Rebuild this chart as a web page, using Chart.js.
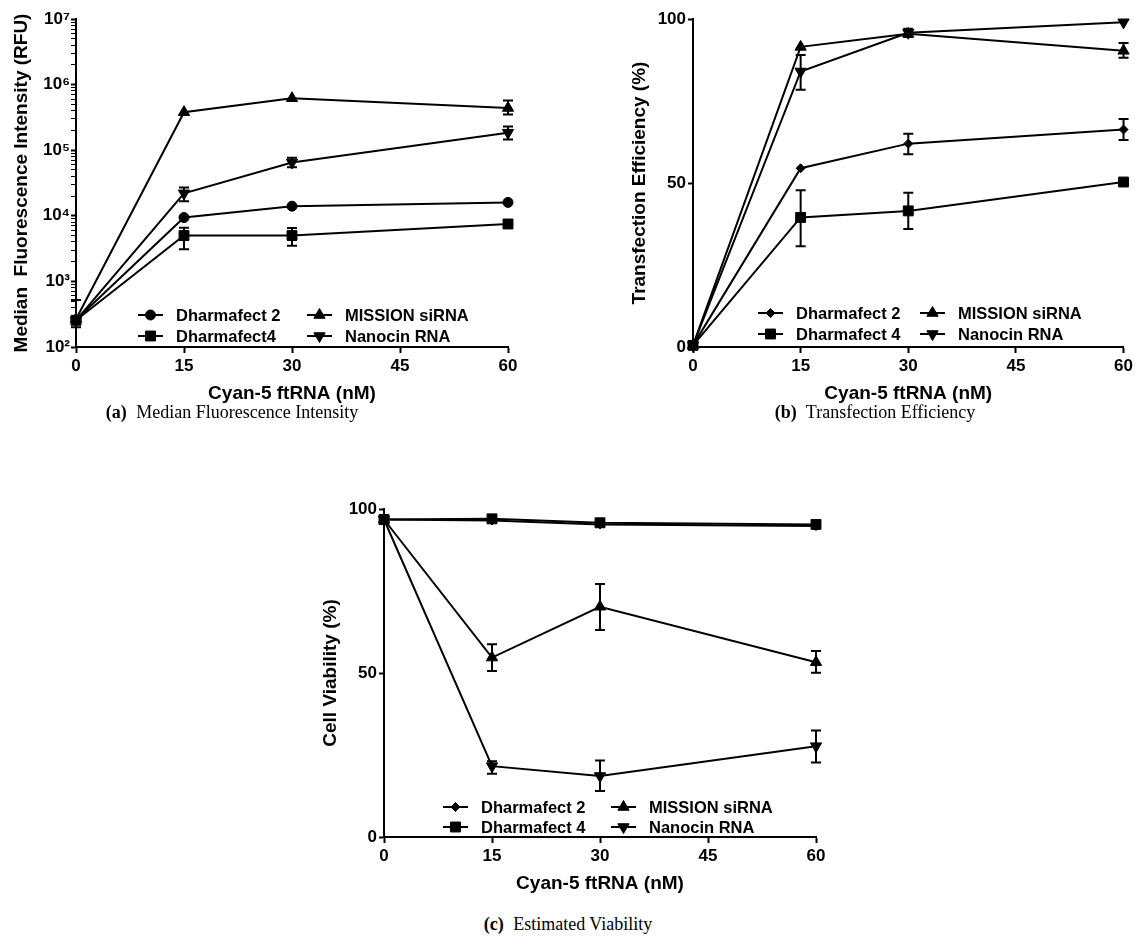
<!DOCTYPE html>
<html>
<head>
<meta charset="utf-8">
<script src="https://cdn.jsdelivr.net/npm/chart.js@4.4.1/dist/chart.umd.min.js"></script>
<style>
  body { margin: 0; background: #fff; width: 1136px; height: 943px; position: relative; overflow: hidden; }
  canvas { position: absolute; }
  .cap { position: absolute; font-family: 'Liberation Serif', 'DejaVu Serif', serif; font-size: 18px; color: #000; text-align: center; line-height: 22px; }
  .cap b { margin-right: 5px; }
</style>
</head>
<body>
<canvas id="chartA" width="530" height="407" style="left:0px;top:0px"></canvas>
<canvas id="chartB" width="536" height="407" style="left:600px;top:0px"></canvas>
<canvas id="chartC" width="560" height="407" style="left:290px;top:490px"></canvas>
<div class="cap" style="left:0px;width:464px;top:401px"><b>(a)</b> Median Fluorescence Intensity</div>
<div class="cap" style="left:675px;width:400px;top:401px"><b>(b)</b> Transfection Efficiency</div>
<div class="cap" style="left:368px;width:400px;top:913px"><b>(c)</b> Estimated Viability</div>
<script>
"use strict"

// x values (nM) and tick positions
const doses = [0, 15, 30, 60];
const xTicks = [0, 15, 30, 45, 60];
const pctTicks = [0, 50, 100];
const mfiDecades = [1e2, 1e3, 1e4, 1e5, 1e6, 1e7];
const mfiTickLabels = ['10²', '10³', '10⁴', '10⁵', '10⁶', '10⁷'];

// (a) median fluorescence intensity (RFU)
const mfiDharma2 = [260, 9400, 14000, 16000];
const mfiDharma4 = [255, 5000, 5000, 7500];
const mfiDharma4Lo = [200, 3100, 3500, null];
const mfiDharma4Hi = [520, 6600, 6500, null];
const mfiMission = [265, 380000, 620000, 440000];
const mfiMissionLo = [null, null, null, 350000];
const mfiMissionHi = [null, null, null, 570000];
const mfiNanocin = [255, 22000, 65000, 185000];
const mfiNanocinLo = [null, 16600, 55000, 145000];
const mfiNanocinHi = [null, 27000, 77000, 230000];

// (b) transfection efficiency (%)
const teDharma2 = [0.5, 54.5, 62, 66.3];
const teDharma2Lo = [null, null, 58.8, 63.1];
const teDharma2Hi = [null, null, 65, 69.5];
const teDharma4 = [0.5, 39.5, 41.5, 50.3];
const teDharma4Lo = [null, 30.7, 36, null];
const teDharma4Hi = [null, 47.8, 47, null];
const teMission = [0.5, 91.5, 95.5, 90.3];
const teMissionLo = [null, null, null, 88.2];
const teMissionHi = [null, null, null, 92.7];
const teNanocin = [0.5, 84, 95.8, 99];
const teNanocinLo = [null, 78.4, 94.5, null];
const teNanocinHi = [null, 89, 97, null];

// (c) cell viability (%)
const cvDharma2 = [96.8, 96.5, 95.3, 94.8];
const cvDharma4 = [96.8, 97.0, 95.8, 95.3];
const cvMission = [96.8, 54.7, 70.2, 53.3];
const cvMissionLo = [null, 50.6, 63.1, 50.1];
const cvMissionHi = [null, 58.8, 77.1, 56.7];
const cvNanocin = [96.8, 21.6, 18.6, 27.7];
const cvNanocinLo = [null, 19.3, 14.0, 22.7];
const cvNanocinHi = [null, 23.1, 23.3, 32.5];

const xTitle = 'Cyan-5 ftRNA (nM)';

Chart.defaults.font.family = "'Liberation Sans', Arial, sans-serif";
Chart.defaults.color = '#000';

// error bars drawn on top of the lines
const errorBars = {
    id: 'errorBars',
    afterDatasetsDraw(chart) {
        const ctx = chart.ctx, xs = chart.scales.x, ys = chart.scales.y;
        ctx.save();
        ctx.strokeStyle = '#000';
        ctx.lineWidth = 2;
        chart.data.datasets.forEach(ds => {
            if (!ds.errLo) return;
            ds.data.forEach((p, i) => {
                const lo = ds.errLo[i], hi = ds.errHi[i];
                if (lo == null || hi == null) return;
                const x = xs.getPixelForValue(p.x);
                const y1 = ys.getPixelForValue(lo), y2 = ys.getPixelForValue(hi);
                ctx.beginPath();
                ctx.moveTo(x, y1); ctx.lineTo(x, y2);
                ctx.moveTo(x - 5, y1); ctx.lineTo(x + 5, y1);
                ctx.moveTo(x - 5, y2); ctx.lineTo(x + 5, y2);
                ctx.stroke();
            });
        });
        ctx.restore();
    }
};

// 2x2 legend inside the plot, line + marker like the original
const innerLegend = {
    id: 'innerLegend',
    afterDraw(chart, args, opts) {
        const ctx = chart.ctx, area = chart.chartArea;
        ctx.save();
        ctx.font = "bold 16.5px 'Liberation Sans', Arial, sans-serif";
        ctx.textBaseline = 'middle';
        ctx.textAlign = 'left';
        chart.data.datasets.forEach((ds, i) => {
            const col = Math.floor(i / 2), row = i % 2;
            const x0 = area.left + opts.colX[col];
            const y = area.bottom + opts.rowY[row];
            ctx.strokeStyle = '#000';
            ctx.fillStyle = '#000';
            ctx.lineWidth = 2;
            ctx.beginPath();
            ctx.moveTo(x0, y); ctx.lineTo(x0 + 25, y);
            ctx.stroke();
            ctx.lineWidth = 1;
            if (Chart.helpers && Chart.helpers.drawPoint) {
                Chart.helpers.drawPoint(ctx, {
                    pointStyle: ds.pointStyle,
                    rotation: ds.pointRotation || 0,
                    radius: ds.pointRadius,
                    borderWidth: 1
                }, x0 + 12.5, y);
            }
            ctx.fillStyle = '#000';
            ctx.fillText(ds.label, x0 + 38, y + 1);
        });
        ctx.restore();
    }
};

function pts(arr) {
    return doses.map((x, i) => ({ x: x, y: arr[i] }));
}

function series(label, arr, style, radius, lo, hi, rot) {
    return {
        label: label,
        data: pts(arr),
        borderColor: '#000',
        backgroundColor: '#000',
        borderWidth: 2,
        pointStyle: style,
        pointRadius: radius,
        pointRotation: rot || 0,
        pointBackgroundColor: '#000',
        pointBorderColor: '#000',
        pointBorderWidth: 1,
        tension: 0,
        clip: false,
        errLo: lo,
        errHi: hi
    };
}

const tickFont = { size: 17, weight: 'bold' };
const titleFont = { size: 19, weight: 'bold' };

function xScale() {
    return {
        type: 'linear', min: 0, max: 60,
        afterBuildTicks: s => { s.ticks = xTicks.map(v => ({ value: v })); },
        ticks: { color: '#000', font: tickFont, padding: 3, autoSkip: false, maxRotation: 0 },
        grid: { display: true, drawOnChartArea: false, drawTicks: true, tickLength: 6, tickWidth: 2, tickColor: '#000' },
        border: { display: true, color: '#000', width: 2 },
        title: { display: true, text: xTitle, color: '#000', font: titleFont, padding: { top: 0, bottom: 2 } },
        afterFit: s => { s.height = 60; }
    };
}

function yPct(title, width, padTop) {
    return {
        type: 'linear', min: 0, max: 100,
        afterBuildTicks: s => { s.ticks = pctTicks.map(v => ({ value: v })); },
        ticks: { color: '#000', font: tickFont, padding: 2, autoSkip: false },
        grid: { display: true, drawOnChartArea: false, drawTicks: true, tickLength: 5, tickWidth: 2, tickColor: '#000' },
        border: { display: true, color: '#000', width: 2 },
        title: { display: true, text: title, color: '#000', font: titleFont, padding: { top: padTop, bottom: 0 } },
        afterFit: s => { s.width = width; }
    };
}

function yLog(title, width, padTop) {
    return {
        type: 'logarithmic', min: 1e2, max: 1e7,
        afterBuildTicks: s => {
            const t = [];
            mfiDecades.forEach((d, k) => {
                t.push({ value: d, major: true });
                if (k < mfiDecades.length - 1) {
                    for (let m = 2; m <= 9; m++) t.push({ value: d * m, major: false });
                }
            });
            s.ticks = t;
        },
        ticks: {
            color: '#000', font: tickFont, padding: 1, autoSkip: false,
            callback: v => {
                const k = mfiDecades.findIndex(d => Math.abs(d - v) / d < 1e-6);
                return k >= 0 ? mfiTickLabels[k] : '';
            }
        },
        grid: {
            display: true, drawOnChartArea: false, drawTicks: true, tickLength: 5, tickColor: '#000',
            tickWidth: ctx => (ctx.tick && mfiDecades.some(d => Math.abs(d - ctx.tick.value) / d < 1e-6)) ? 2 : 1
        },
        border: { display: true, color: '#000', width: 2 },
        title: { display: true, text: title, color: '#000', font: titleFont, padding: { top: padTop, bottom: 0 } },
        afterFit: s => { s.width = width; }
    };
}

function baseOptions(yCfg, pad, legendCols, legendRows) {
    return {
        responsive: false,
        maintainAspectRatio: false,
        animation: false,
        layout: { padding: pad },
        scales: { x: xScale(), y: yCfg },
        plugins: {
            legend: { display: false },
            tooltip: { enabled: false },
            innerLegend: { colX: legendCols, rowY: legendRows }
        }
    };
}

// (a) Median Fluorescence Intensity
new Chart(document.getElementById('chartA'), {
    type: 'line',
    data: {
        datasets: [
            series('Dharmafect 2', mfiDharma2, 'circle', 5, null, null),
            series('Dharmafect4', mfiDharma4, 'rect', 7, mfiDharma4Lo, mfiDharma4Hi),
            series('MISSION siRNA', mfiMission, 'triangle', 6.5, mfiMissionLo, mfiMissionHi),
            series('Nanocin RNA', mfiNanocin, 'triangle', 6.5, mfiNanocinLo, mfiNanocinHi, 180)
        ]
    },
    options: baseOptions(yLog('Median  Fluorescence Intensity (RFU)', 76, 10.6),
        { left: 0, top: 19, right: 22, bottom: 0 }, [62, 231], [-32, -11]),
    plugins: [errorBars, innerLegend]
});

// (b) Transfection Efficiency
new Chart(document.getElementById('chartB'), {
    type: 'line',
    data: {
        datasets: [
            series('Dharmafect 2', teDharma2, 'rectRot', 4.5, teDharma2Lo, teDharma2Hi),
            series('Dharmafect 4', teDharma4, 'rect', 7, teDharma4Lo, teDharma4Hi),
            series('MISSION siRNA', teMission, 'triangle', 6.5, teMissionLo, teMissionHi),
            series('Nanocin RNA', teNanocin, 'triangle', 6.5, teNanocinLo, teNanocinHi, 180)
        ]
    },
    options: baseOptions(yPct('Transfection Efficiency (%)', 93, 28.6),
        { left: 0, top: 19, right: 11, bottom: 0 }, [65, 227], [-34, -13]),
    plugins: [errorBars, innerLegend]
});

// (c) Estimated Viability
new Chart(document.getElementById('chartC'), {
    type: 'line',
    data: {
        datasets: [
            series('Dharmafect 2', cvDharma2, 'rectRot', 4.5, null, null),
            series('Dharmafect 4', cvDharma4, 'rect', 7, null, null),
            series('MISSION siRNA', cvMission, 'triangle', 6.5, cvMissionLo, cvMissionHi),
            series('Nanocin RNA', cvNanocin, 'triangle', 6.5, cvNanocinLo, cvNanocinHi, 180)
        ]
    },
    options: baseOptions(yPct('Cell Viability (%)', 94, 29.6),
        { left: 0, top: 19, right: 34, bottom: 0 }, [59, 227], [-30, -10]),
    plugins: [errorBars, innerLegend]
});
</script>
</body>
</html>
